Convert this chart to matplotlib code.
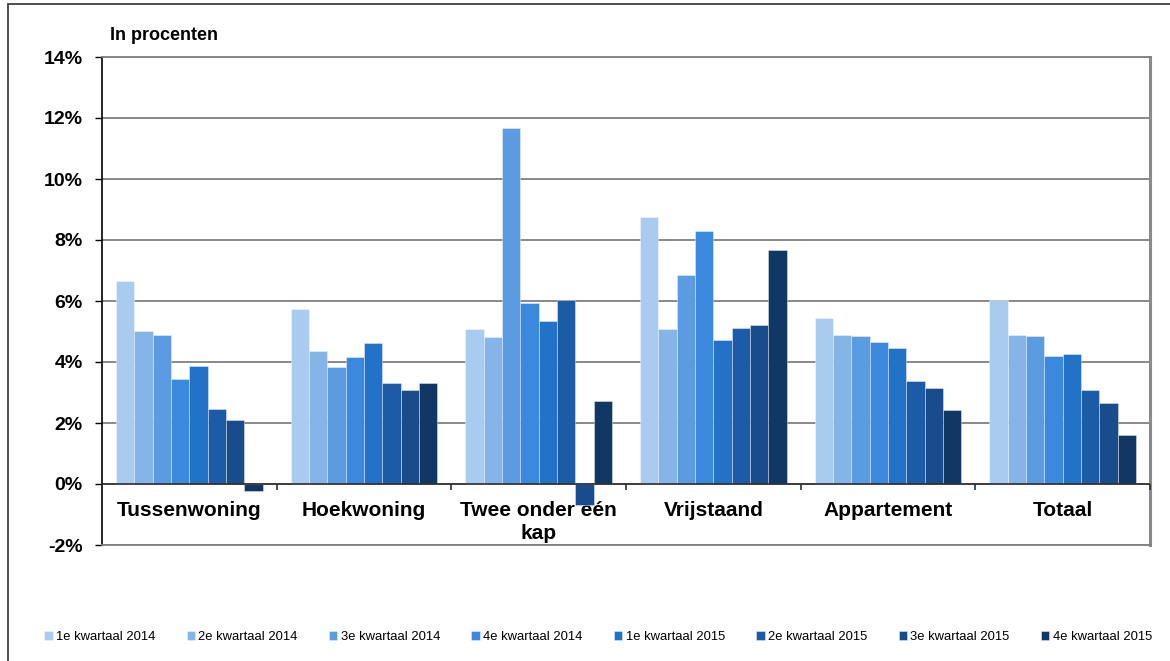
import numpy as np
import matplotlib
matplotlib.use("Agg")
import matplotlib.pyplot as plt
from matplotlib.patches import Rectangle

plt.rcParams['font.family'] = ['Liberation Sans', 'DejaVu Sans']

## data (percent)
categories = ["Tussenwoning", "Hoekwoning", "Twee onder één\nkap", "Vrijstaand", "Appartement", "Totaal"]
series = ["1e kwartaal 2014", "2e kwartaal 2014", "3e kwartaal 2014", "4e kwartaal 2014",
          "1e kwartaal 2015", "2e kwartaal 2015", "3e kwartaal 2015", "4e kwartaal 2015"]
q1_2014 = [6.65, 5.73, 5.08, 8.77, 5.45, 6.03]
q2_2014 = [5.02, 4.35, 4.83, 5.07, 4.87, 4.89]
q3_2014 = [4.88, 3.83, 11.67, 6.84, 4.85, 4.85]
q4_2014 = [3.44, 4.16, 5.92, 8.28, 4.66, 4.19]
q1_2015 = [3.87, 4.63, 5.34, 4.72, 4.46, 4.25]
q2_2015 = [2.47, 3.32, 6.03, 5.13, 3.38, 3.08]
q3_2015 = [2.11, 3.08, -0.69, 5.20, 3.14, 2.67]
q4_2015 = [-0.23, 3.32, 2.73, 7.66, 2.43, 1.61]
values = [q1_2014, q2_2014, q3_2014, q4_2014, q1_2015, q2_2015, q3_2015, q4_2015]
yticks = [-2, 0, 2, 4, 6, 8, 10, 12, 14]

colors = ["#a9cbf0", "#85b4e8", "#5a9be2", "#3a89de", "#2272c8", "#1c5ca6", "#194c8a", "#113764"]

fig = plt.figure(figsize=(11.7, 6.61), dpi=100)
ax = fig.add_axes([102/1170, 116/661, 1048/1170, 488/661])

x = np.arange(len(categories))
w = 0.105
for i, (name, vals) in enumerate(zip(series, values)):
    ax.bar(x - 4*w + (i + 0.5)*w, vals, width=w, color=colors[i], label=name,
           edgecolor=(1, 1, 1, 0.45), linewidth=0.6, zorder=3)

ax.set_xlim(-0.5, len(categories) - 0.5)
ax.set_ylim(-2, 14)
ax.set_yticks(yticks)
ax.set_yticklabels([f"{t}%" for t in yticks], fontsize=14, fontweight='bold')
ax.tick_params(axis='y', length=5, width=1, pad=9, direction='out')
ax.set_xticks([])
ax.grid(axis='y', color='#808080', linewidth=1.3, zorder=0)
ax.set_axisbelow(True)

for s in ['top', 'bottom']:
    ax.spines[s].set_color('#808080')
    ax.spines[s].set_linewidth(1.3)
ax.spines['right'].set_color('#8a8a8a')
ax.spines['right'].set_linewidth(2.2)
ax.spines['left'].set_color('black')
ax.spines['left'].set_linewidth(1.2)

# zero line with category tick marks
ax.axhline(0, color='#303030', linewidth=1.2, zorder=4)
ax.vlines(np.arange(len(categories) + 1) - 0.5, -0.2, 0, color='#303030', linewidth=1.2,
          zorder=4, clip_on=False)

# category names sit under the zero line, bars drawn over them
for xi, lab in zip(x, categories):
    ax.text(xi, -0.55, lab, ha='center', va='top', fontsize=15, fontweight='bold',
            linespacing=1.3, zorder=2)

fig.text(110/1170, 1 - 35/661, "In procenten", fontsize=13, fontweight='bold', va='center')

fig.legend(loc='center', bbox_to_anchor=(598/1170, 1 - 637/661), ncol=8, frameon=False,
           fontsize=9.4, handlelength=0.65, handleheight=0.65, handletextpad=0.25,
           columnspacing=2.4, borderpad=0)

# outer chart frame
fig.patches.append(Rectangle((8/1170, -0.2), 1.2, 1.2 - 4/661, transform=fig.transFigure,
                             fill=False, edgecolor='#404040', linewidth=1.3))

fig.savefig("out.png", dpi=100)
